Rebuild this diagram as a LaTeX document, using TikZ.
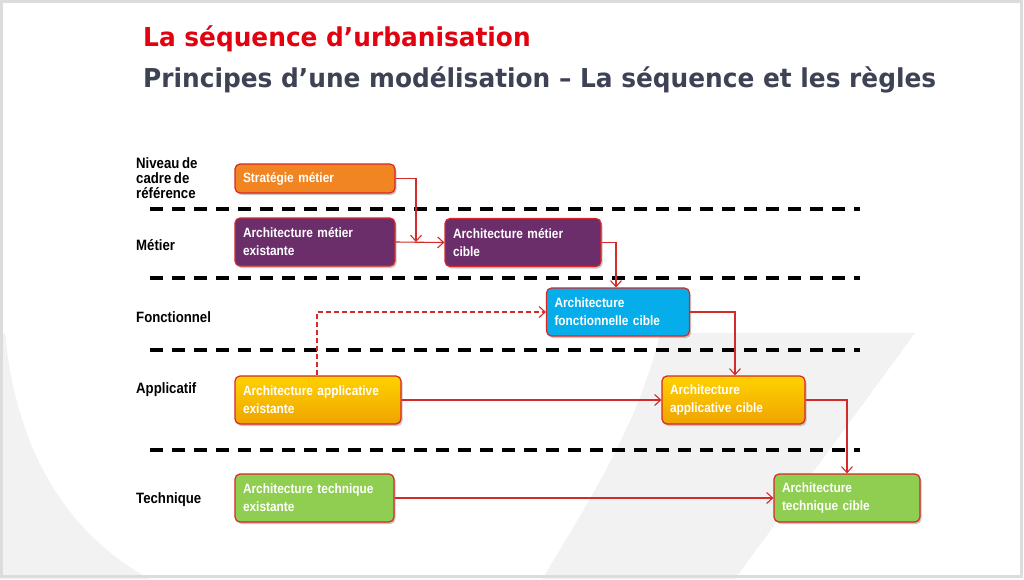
\documentclass[tikz,border=0pt]{standalone}
\usepackage{fontspec}
\setmainfont{Liberation Sans}
\newfontfamily\titlefont[FakeStretch=0.955]{DejaVu Sans}
\newfontfamily\narrowfont[FakeStretch=0.88,WordSpace=0.7]{Liberation Sans}
\usetikzlibrary{arrows.meta,shadows}
\definecolor{titlered}{HTML}{E3000F}
\definecolor{titlegray}{HTML}{3D4254}
\definecolor{boxred}{HTML}{D92626}
\definecolor{arrred}{HTML}{D42A2A}
\definecolor{corange}{HTML}{F08522}
\definecolor{cpurple}{HTML}{6B2E6B}
\definecolor{ccyan}{HTML}{05AEEA}
\definecolor{cyellowt}{HTML}{FFD200}
\definecolor{cyellowb}{HTML}{EFA300}
\definecolor{cgreen}{HTML}{8FCE50}
\definecolor{bandgray}{HTML}{F2F2F2}
\definecolor{framegray}{HTML}{DCDCDC}
\tikzset{
  box/.style={draw=boxred, line width=1.2pt, rounded corners=5pt,
    minimum height=48pt, text=white, align=left, inner xsep=8pt, inner ysep=0pt,
    font=\narrowfont\bfseries\fontsize{13.5}{18}\selectfont,
    drop shadow={shadow xshift=1.5pt, shadow yshift=-2pt, opacity=0.3, fill=black!70}},
  lvl/.style={anchor=west, align=left, inner sep=0pt, text=black,
    font=\narrowfont\bfseries\fontsize{15}{15}\selectfont},
  sep/.style={draw=black, line width=3.2pt, dash pattern=on 13pt off 9pt},
  arr/.style={draw=arrred, line width=1.1pt, -{Straight Barb[length=6pt,width=11pt]}},
  darr/.style={arr, dash pattern=on 5pt off 3pt},
}
\begin{document}
\begin{tikzpicture}[x=1pt,y=-1pt]
\useasboundingbox (0,0) rectangle (1024,579);
\fill[white] (0,0) rectangle (1024,579);
% background swoosh
\begin{scope}
  \clip (0,333) -- (915,333) -- (735,579) -- (0,579) -- cycle;
  \fill[bandgray] (0,333) -- (915,333) -- (735,579) -- (0,579) -- cycle;
  \fill[white] (5,333) .. controls (15,440) and (60,530) .. (150,579)
     -- (542,579) .. controls (590,500) and (640,420) .. (660,333)
     -- (660,300) -- (5,300) -- cycle;
\end{scope}
\draw[framegray, line width=3pt] (1.5,1.5) rectangle (1021,576);

% titles
\node[anchor=base west, inner sep=0pt, text=titlered,
  font=\titlefont\bfseries\fontsize{26}{30}\selectfont] (t1) at (143,46) {La séquence d’urbanisation};
\node[anchor=base west, inner sep=0pt, text=titlegray,
  font=\titlefont\bfseries\fontsize{26}{30}\selectfont] (t2) at (143,87) {Principes d’une modélisation – La séquence et les règles};

% level labels
\node[lvl] (l1) at (136,178) {Niveau de\\cadre de\\référence};
\node[lvl] (l2) at (136,245) {Métier};
\node[lvl] (l3) at (136,317) {Fonctionnel};
\node[lvl] (l4) at (136,390) {Applicatif};
\node[lvl] (l5) at (136,500) {Technique};

% separators
\coordinate (s1a) at (150,209); \coordinate (s1b) at (860,209);
\coordinate (s2a) at (150,278); \coordinate (s2b) at (860,278);
\coordinate (s3a) at (150,350); \coordinate (s3b) at (860,350);
\coordinate (s4a) at (150,450); \coordinate (s4b) at (860,450);
\draw[sep] (s1a) -- (s1b);
\draw[sep] (s2a) -- (s2b);
\draw[sep] (s3a) -- (s3b);
\draw[sep] (s4a) -- (s4b);

% boxes
\node[box, fill=corange, minimum width=160pt, minimum height=29pt, text width=144pt] (strat) at (315,178.5) {Stratégie métier};
\node[box, fill=cpurple, minimum width=160pt, text width=144pt] (mex) at (315,242) {Architecture métier\\existante};
\node[box, fill=cpurple, minimum width=156pt, text width=140pt] (mcib) at (523,242.5) {Architecture métier\\cible};
\node[box, fill=ccyan, minimum width=143pt, text width=127pt] (fcib) at (618,312) {Architecture\\fonctionnelle cible};
\node[box, top color=cyellowt, bottom color=cyellowb, minimum width=166pt, text width=150pt] (aex) at (318,400) {Architecture applicative\\existante};
\node[box, top color=cyellowt, bottom color=cyellowb, minimum width=143pt, text width=127pt] (acib) at (733.5,400) {Architecture\\applicative cible};
\node[box, fill=cgreen, minimum width=159pt, text width=143pt] (tex) at (314.5,498) {Architecture technique\\existante};
\node[box, fill=cgreen, minimum width=146pt, text width=130pt] (tcib) at (847,498) {Architecture\\technique cible};

% connectors
\coordinate (join) at (416,242);
\draw[arr] (strat.east) -| (join);
\draw[arr] (mex.east) -- (mcib.west);
\draw[arr] (mcib.east) -| ([xshift=-2pt]fcib.north);
\draw[darr] ([xshift=-1pt]aex.north) |- (fcib.west);
\draw[arr] (fcib.east) -| ([xshift=1.5pt]acib.north);
\draw[arr] (aex.east) -- (acib.west);
\draw[arr] (acib.east) -| (tcib.north);
\draw[arr] (tex.east) -- (tcib.west);
\end{tikzpicture}
\end{document}
